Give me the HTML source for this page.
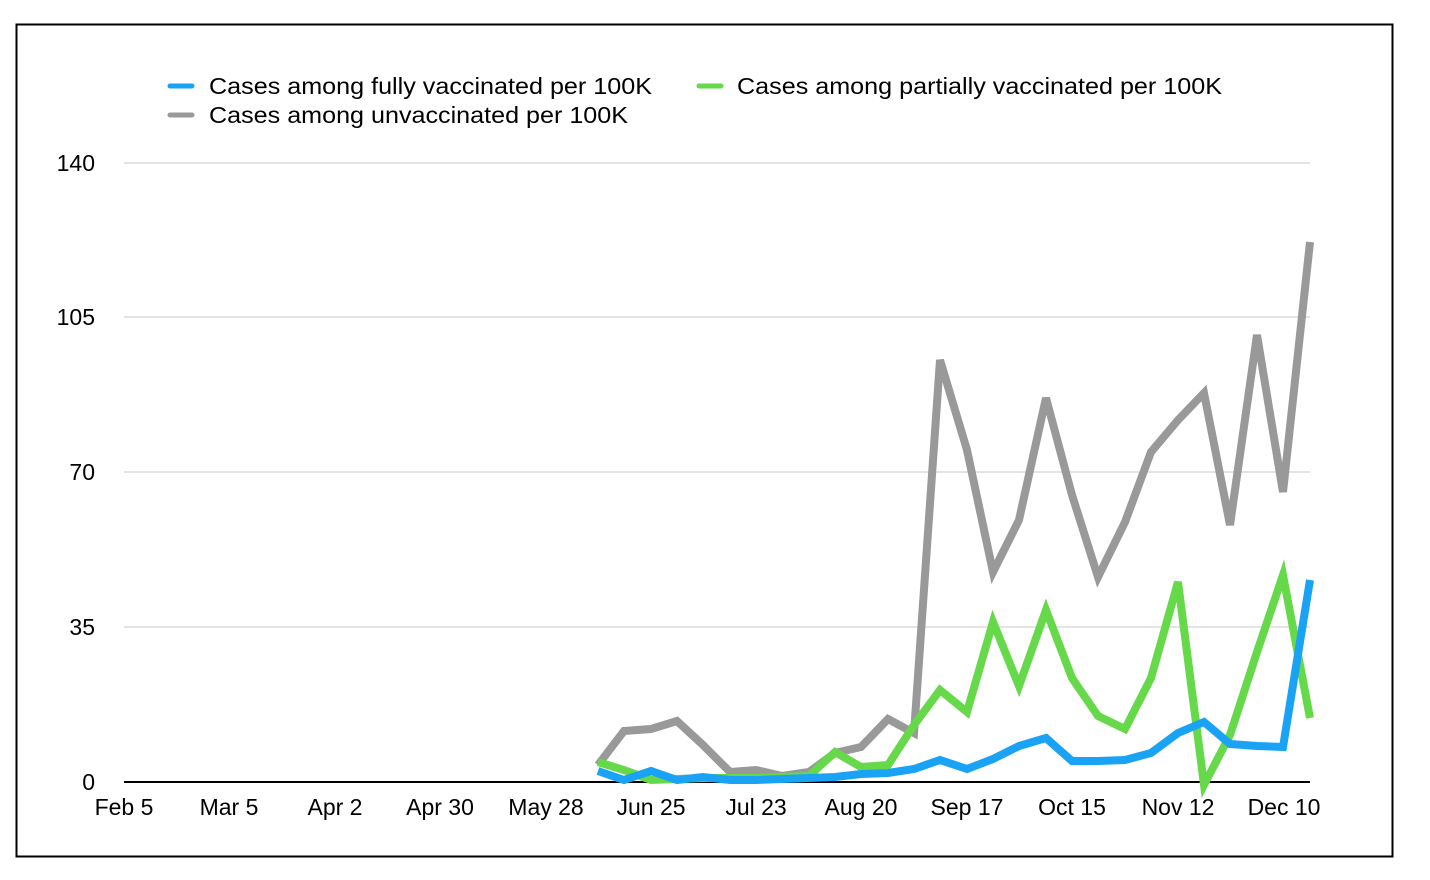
<!DOCTYPE html>
<html><head><meta charset="utf-8"><style>
html,body{margin:0;padding:0;background:#fff;}
svg{display:block;font-family:"Liberation Sans",Arial,sans-serif;}
</style></head><body>
<svg width="1430" height="880" viewBox="0 0 1430 880">
<rect x="16.5" y="24.5" width="1376" height="832" fill="#fff" stroke="#000" stroke-width="2"/>
<g stroke="#c8c8c8" stroke-width="1">
<line x1="124" y1="163" x2="1310" y2="163"/>
<line x1="124" y1="317" x2="1310" y2="317"/>
<line x1="124" y1="472" x2="1310" y2="472"/>
<line x1="124" y1="627" x2="1310" y2="627"/>
</g>
<line x1="124" y1="782" x2="1310" y2="782" stroke="#000" stroke-width="2"/>
<g font-size="23" fill="#000" text-anchor="end">
<text x="95" y="171">140</text>
<text x="95" y="325">105</text>
<text x="95" y="480">70</text>
<text x="95" y="635">35</text>
<text x="95" y="790">0</text>
</g>
<g font-size="23" fill="#000" text-anchor="middle">
<text x="124" y="815">Feb 5</text>
<text x="229" y="815">Mar 5</text>
<text x="335" y="815">Apr 2</text>
<text x="440" y="815">Apr 30</text>
<text x="546" y="815">May 28</text>
<text x="651" y="815">Jun 25</text>
<text x="756" y="815">Jul 23</text>
<text x="861" y="815">Aug 20</text>
<text x="967" y="815">Sep 17</text>
<text x="1072" y="815">Oct 15</text>
<text x="1178" y="815">Nov 12</text>
<text x="1284" y="815">Dec 10</text>
</g>
<g stroke-width="5" stroke-linecap="round">
<line x1="170" y1="86" x2="192" y2="86" stroke="#1aa3f5"/>
<line x1="699" y1="86" x2="721" y2="86" stroke="#66d94a"/>
<line x1="170" y1="115" x2="192" y2="115" stroke="#999"/>
</g>
<g font-size="23" fill="#000">
<text x="209" y="94" textLength="443" lengthAdjust="spacingAndGlyphs">Cases among fully vaccinated per 100K</text>
<text x="737" y="94" textLength="485" lengthAdjust="spacingAndGlyphs">Cases among partially vaccinated per 100K</text>
<text x="209" y="123" textLength="419" lengthAdjust="spacingAndGlyphs">Cases among unvaccinated per 100K</text>
</g>
<g fill="none" stroke-width="8" stroke-linejoin="miter">
<polyline stroke="#999" points="598,765 624,731 651,729 677,721 703,745 730,772 756,770 782,776 809,772 835,753 861,747 888,719 914,733 940,360 967,450 993,572 1019,520 1046,398 1072,495 1098,577 1125,522 1151,452 1178,420 1204,393 1230,525 1257,335 1283,492 1310,242"/>
<polyline stroke="#66d94a" points="598,762 624,770 651,780 677,779 703,778 730,778 756,778 782,777 809,776 835,752 861,767 888,765 914,725 940,690 967,712 993,622 1019,686 1046,610 1072,678 1098,716 1125,729 1151,678 1178,582 1204,785 1230,735 1257,652 1283,575 1310,718"/>
<polyline stroke="#1aa3f5" points="598,771 624,780 651,771 677,780 703,777 730,780 756,780 782,779 809,778 835,777 861,774 888,773 914,769 940,760 967,769 993,759 1019,746 1046,738 1072,761 1098,761 1125,760 1151,753 1178,733 1204,722 1230,744 1257,746 1283,747 1310,580"/>
</g>
</svg>
</body></html>
